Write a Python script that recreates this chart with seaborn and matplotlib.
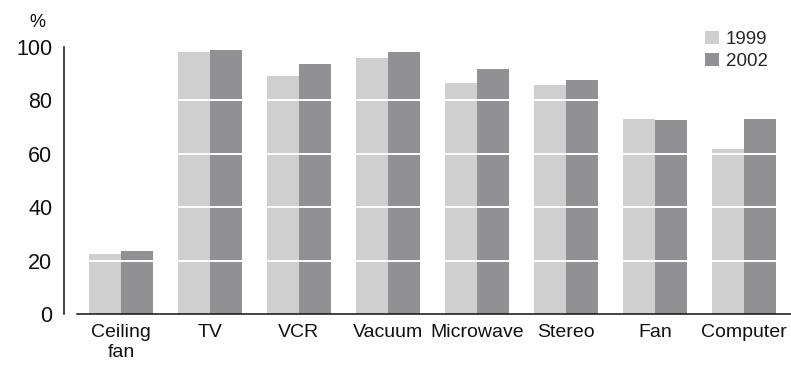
import matplotlib
matplotlib.use("Agg")
import matplotlib.pyplot as plt
import seaborn as sns
import pandas as pd

categories = ["Ceiling\nfan", "TV", "VCR", "Vacuum", "Microwave", "Stereo", "Fan", "Computer"]
values_1999 = [22.4, 98.1, 89.0, 95.9, 86.5, 85.8, 73.0, 61.8]
values_2002 = [23.5, 98.9, 93.6, 98.1, 91.8, 87.6, 72.6, 73.0]
years = ["1999", "2002"]
yticks = [0, 20, 40, 60, 80, 100]

df = pd.DataFrame({
    "category": categories * 2,
    "year": [years[0]] * len(categories) + [years[1]] * len(categories),
    "value": values_1999 + values_2002,
})

sns.set_theme(style="white")
plt.rcParams["font.family"] = ["Liberation Sans", "DejaVu Sans"]

fig = plt.figure(figsize=(7.91, 3.69), dpi=100)
ax = fig.add_axes([77 / 791, 1 - 314 / 369, 1 - 77 / 791, (314 - 47) / 369])

palette = {"1999": "#cfcfcf", "2002": "#919193"}
sns.barplot(data=df, x="category", y="value", hue="year", palette=palette,
            width=0.72, saturation=1, ax=ax, legend=True)
for p in ax.patches:
    p.set_edgecolor("none")
    p.set_linewidth(0)

ax.set_xlim(-0.494, 7.53)
ax.set_ylim(0, 100)
ax.set_yticks(yticks)
ax.set_yticklabels([str(t) for t in yticks])
ax.tick_params(axis="x", labelsize=14, labelcolor="#111111", color="#111111",
               length=4.5, width=1.1, direction="out", pad=3)
ax.tick_params(axis="y", labelsize=15.5, labelcolor="#111111", color="#111111",
               length=4.5, width=1.1, direction="out", pad=4)
for t in yticks[1:-1]:
    ax.axhline(t, color="white", lw=1.4, zorder=5)

for s in ["top", "right"]:
    ax.spines[s].set_visible(False)
ax.spines["left"].set_position(("outward", 9.4))
for s in ["left", "bottom"]:
    ax.spines[s].set_color("#111111")
    ax.spines[s].set_linewidth(1.1)
ax.set_xlabel("")
ax.set_ylabel("")

ax.text(-0.056, 1.092, "%", transform=ax.transAxes, fontsize=13, ha="center", va="center", color="#111111")

leg = ax.legend(loc="upper right", bbox_to_anchor=(768 / 791, 1 - 31 / 369),
                bbox_transform=fig.transFigure, frameon=False, fontsize=13.5,
                handlelength=0.7, handleheight=0.7, handletextpad=0.4, labelspacing=0.25,
                borderaxespad=0, borderpad=0)
for h in leg.legend_handles:
    h.set_edgecolor("none")

fig.savefig("out.png", dpi=100)
